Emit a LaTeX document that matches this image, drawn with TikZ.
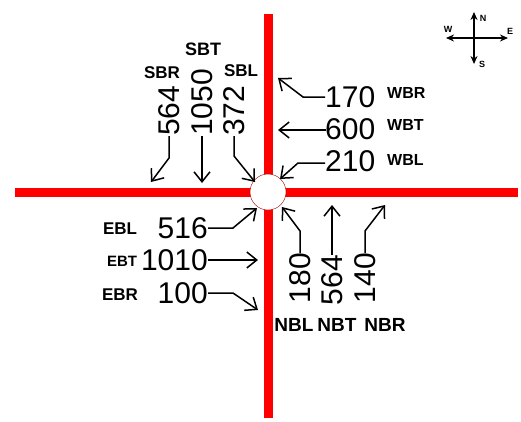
\documentclass[tikz,border=0pt]{standalone}
\usepackage{fontspec}
\setmainfont{Liberation Sans}
\usetikzlibrary{arrows.meta}
\tikzset{
    road/.style={red, line width=9pt},
    count/.style={font=\fontsize{30}{30}\selectfont, inner sep=0pt},
    turnlabel/.style={font=\bfseries\fontsize{#1}{#1}\selectfont, inner sep=0pt},
    turnlabel/.default=17,
    flow/.style={line width=1.5pt, -{Straight Barb[length=10pt,width=16pt]}},
    compass/.style={line width=1.8pt, -{Stealth[length=8pt,width=7pt]}}
}
\begin{document}
\begin{tikzpicture}[x=1pt,y=-1pt]
    \useasboundingbox (0,0) rectangle (521,421);
    % roads and junction
    \draw[road] (15,192) -- (518,192);
    \draw[road] (268,14) -- (268,418);
    \node[circle, draw=red!60!black, fill=white, line width=0.4pt, minimum size=36pt, inner sep=0pt] (junction) at (268,192) {};

    % south bound
    \node[turnlabel] (sbr) at (162,73) {SBR};
    \node[turnlabel=18] (sbt) at (203,49) {SBT};
    \node[turnlabel] (sbl) at (241,71) {SBL};
    \node[count, rotate=90, anchor=west] (n-sbr) at (169,136) {564};
    \node[count, rotate=90, anchor=west] (n-sbt) at (202,136) {1050};
    \node[count, rotate=90, anchor=west] (n-sbl) at (234,136) {372};
    \coordinate (t-sbr) at (151,182);
    \coordinate (t-sbt) at (202,183);
    \coordinate (t-sbl) at (255,182);
    \draw[flow] (n-sbr.west) -- ++(0,22) -- (t-sbr);
    \draw[flow] (n-sbt.west) -- (t-sbt);
    \draw[flow] (n-sbl.west) -- ++(0,20) -- (t-sbl);

    % west bound
    \node[count, anchor=west] (n-wbr) at (325,97) {170};
    \node[count, anchor=west] (n-wbt) at (325,129) {600};
    \node[count, anchor=west] (n-wbl) at (325,161) {210};
    \node[turnlabel=16, anchor=west] (wbr) at (387,93) {WBR};
    \node[turnlabel=16, anchor=west] (wbt) at (387,125) {WBT};
    \node[turnlabel=16, anchor=west] (wbl) at (387,160) {WBL};
    \coordinate (t-wbr) at (278,78);
    \coordinate (t-wbt) at (278,130);
    \coordinate (t-wbl) at (280,179);
    \draw[flow] (n-wbr.west) -- ++(-22,0) -- (t-wbr);
    \draw[flow] (n-wbt.west) |- (t-wbt);
    \draw[flow] (n-wbl.west) ++(0,2) -- ++(-27,0) -- (t-wbl);

    % east bound
    \node[count, anchor=east] (n-ebl) at (208,228) {516};
    \node[count, anchor=east] (n-ebt) at (208,260) {1010};
    \node[count, anchor=east] (n-ebr) at (208,293) {100};
    \node[turnlabel] (ebl) at (120,229) {EBL};
    \node[turnlabel=15] (ebt) at (122,261) {EBT};
    \node[turnlabel] (ebr) at (120,295) {EBR};
    \coordinate (t-ebl) at (257,208);
    \coordinate (t-ebt) at (258,260);
    \coordinate (t-ebr) at (258,310);
    \draw[flow] (n-ebl.east) -- ++(25,0) -- (t-ebl);
    \draw[flow] (n-ebt.east) -- (t-ebt);
    \draw[flow] (n-ebr.east) -- ++(25,0) -- (t-ebr);

    % north bound
    \node[count, rotate=90, anchor=east] (n-nbl) at (300,253) {180};
    \node[count, rotate=90, anchor=east] (n-nbt) at (332,255) {564};
    \node[count, rotate=90, anchor=east] (n-nbr) at (365,253) {140};
    \node[turnlabel=19] (nbl) at (294,325) {NBL};
    \node[turnlabel=19] (nbt) at (337,325) {NBT};
    \node[turnlabel=19] (nbr) at (385,325) {NBR};
    \coordinate (t-nbl) at (282,207);
    \coordinate (t-nbt) at (332,205);
    \coordinate (t-nbr) at (385,205);
    \draw[flow] (n-nbl.east) -- ++(0,-22) -- (t-nbl);
    \draw[flow] (n-nbt.east) -- (t-nbt);
    \draw[flow] (n-nbr.east) -- ++(0,-22) -- (t-nbr);

    % compass
    \coordinate (c) at (474,38);
    \coordinate (c-n) at (474,12);
    \coordinate (c-s) at (474,64);
    \coordinate (c-w) at (446,38);
    \coordinate (c-e) at (508,38);
    \draw[compass] (c) -- (c-n);
    \draw[compass] (c) -- (c-s);
    \draw[compass] (c) -- (c-w);
    \draw[compass] (c) -- (c-e);
    \node[turnlabel=9] (l-n) at (483,18) {N};
    \node[turnlabel=9] (l-s) at (482,64) {S};
    \node[turnlabel=9] (l-w) at (448,29) {W};
    \node[turnlabel=9] (l-e) at (510,31) {E};
\end{tikzpicture}
\end{document}
